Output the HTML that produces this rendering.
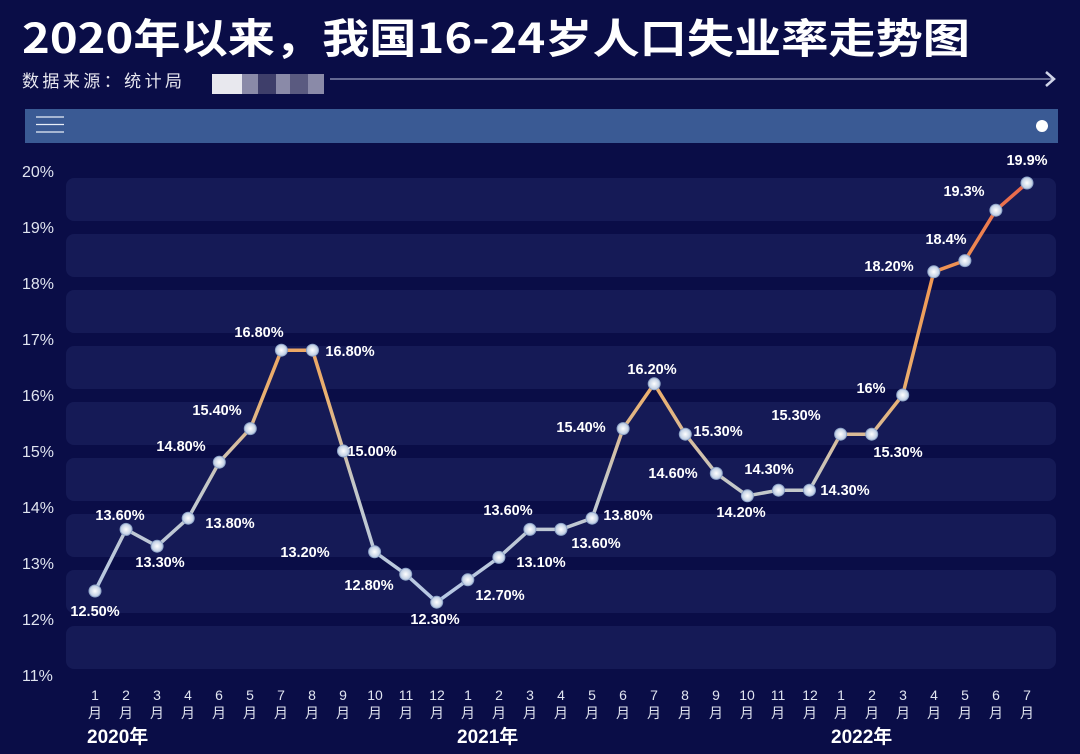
<!DOCTYPE html>
<html><head><meta charset="utf-8"><style>
body{margin:0;width:1080px;height:754px;background:#0a0d47;overflow:hidden;font-family:"Liberation Sans","Noto Sans CJK SC",sans-serif;}
</style></head><body>
<svg width="1080" height="754" xmlns="http://www.w3.org/2000/svg" style="position:absolute;left:0;top:0">
<defs>
<linearGradient id="g" gradientUnits="userSpaceOnUse" x1="0" y1="619" x2="0" y2="171">
<stop offset="0" stop-color="#b4c8ea"/>
<stop offset="0.3" stop-color="#c4c8c8"/>
<stop offset="0.5" stop-color="#eab070"/>
<stop offset="0.75" stop-color="#f09a55"/>
<stop offset="1" stop-color="#e8604a"/>
</linearGradient>
<radialGradient id="dot"><stop offset="0" stop-color="#ffffff"/><stop offset="1" stop-color="#b8c8e0"/></radialGradient>
</defs>
<text x="22" y="53" fill="#fff" font-size="41" font-weight="bold" textLength="948" lengthAdjust="spacingAndGlyphs" font-family="Noto Sans CJK SC,sans-serif">2020年以来，我国16-24岁人口失业率走势图</text>
<text x="22" y="87" fill="#e8e8f0" font-size="17" textLength="160" font-family="Noto Sans CJK SC,sans-serif">数据来源：统计局</text>
<rect x="212" y="74" width="112" height="20" fill="#8a8aa8"/>
<rect x="212" y="74" width="30" height="20" fill="#e8e8ee"/>
<rect x="258" y="74" width="18" height="20" fill="#3e3e6a"/>
<rect x="290" y="74" width="18" height="20" fill="#5a5a80"/>
<line x1="330" y1="79" x2="1052" y2="79" stroke="#9aa0c0" stroke-width="1.2"/>
<polyline points="1046,72 1054,79 1046,86" fill="none" stroke="#d0d4e8" stroke-width="2.5"/>
<rect x="25" y="109" width="1033" height="34" fill="#3a5a94"/>
<g stroke="#e8eef8" stroke-width="1.3"><line x1="36" y1="117" x2="64" y2="117"/><line x1="36" y1="124.5" x2="64" y2="124.5"/><line x1="36" y1="132" x2="64" y2="132"/></g>
<circle cx="1042" cy="126" r="6" fill="#fff"/>
<g fill="#151a56">
<rect x="66" y="178" width="990" height="43" rx="8"/>
<rect x="66" y="234" width="990" height="43" rx="8"/>
<rect x="66" y="290" width="990" height="43" rx="8"/>
<rect x="66" y="346" width="990" height="43" rx="8"/>
<rect x="66" y="402" width="990" height="43" rx="8"/>
<rect x="66" y="458" width="990" height="43" rx="8"/>
<rect x="66" y="514" width="990" height="43" rx="8"/>
<rect x="66" y="570" width="990" height="43" rx="8"/>
<rect x="66" y="626" width="990" height="43" rx="8"/>
</g>
<g fill="#e0e4f0" font-size="16" font-family="Liberation Sans,sans-serif">
<text x="22" y="177">20%</text><text x="22" y="233">19%</text><text x="22" y="289">18%</text><text x="22" y="345">17%</text><text x="22" y="401">16%</text><text x="22" y="457">15%</text><text x="22" y="513">14%</text><text x="22" y="569">13%</text><text x="22" y="625">12%</text><text x="22" y="681">11%</text>
</g>
<polyline fill="none" stroke="url(#g)" stroke-width="3.5" stroke-linejoin="round" points="95.0,591.0 126.1,529.4 157.1,546.2 188.2,518.2 219.3,462.2 250.3,428.6 281.4,350.2 312.5,350.2 343.5,451.0 374.6,551.8 405.7,574.2 436.7,602.2 467.8,579.8 498.9,557.4 529.9,529.4 561.0,529.4 592.1,518.2 623.1,428.6 654.2,383.8 685.3,434.2 716.3,473.4 747.4,495.8 778.5,490.2 809.5,490.2 840.6,434.2 871.7,434.2 902.7,395.0 933.8,271.8 964.9,260.6 995.9,210.2 1027.0,183"/>
<g fill="url(#dot)" stroke="#8ea4c8" stroke-width="1">
<circle cx="95.0" cy="591.0" r="6"/><circle cx="126.1" cy="529.4" r="6"/><circle cx="157.1" cy="546.2" r="6"/><circle cx="188.2" cy="518.2" r="6"/><circle cx="219.3" cy="462.2" r="6"/><circle cx="250.3" cy="428.6" r="6"/><circle cx="281.4" cy="350.2" r="6"/><circle cx="312.5" cy="350.2" r="6"/><circle cx="343.5" cy="451.0" r="6"/><circle cx="374.6" cy="551.8" r="6"/><circle cx="405.7" cy="574.2" r="6"/><circle cx="436.7" cy="602.2" r="6"/><circle cx="467.8" cy="579.8" r="6"/><circle cx="498.9" cy="557.4" r="6"/><circle cx="529.9" cy="529.4" r="6"/><circle cx="561.0" cy="529.4" r="6"/><circle cx="592.1" cy="518.2" r="6"/><circle cx="623.1" cy="428.6" r="6"/><circle cx="654.2" cy="383.8" r="6"/><circle cx="685.3" cy="434.2" r="6"/><circle cx="716.3" cy="473.4" r="6"/><circle cx="747.4" cy="495.8" r="6"/><circle cx="778.5" cy="490.2" r="6"/><circle cx="809.5" cy="490.2" r="6"/><circle cx="840.6" cy="434.2" r="6"/><circle cx="871.7" cy="434.2" r="6"/><circle cx="902.7" cy="395.0" r="6"/><circle cx="933.8" cy="271.8" r="6"/><circle cx="964.9" cy="260.6" r="6"/><circle cx="995.9" cy="210.2" r="6"/><circle cx="1027.0" cy="183" r="6"/>
</g>
<g fill="#fff" font-size="14.5" font-weight="bold" text-anchor="middle" dominant-baseline="central" font-family="Liberation Sans,sans-serif">
<text x="95" y="612">12.50%</text><text x="120" y="516">13.60%</text><text x="160" y="563">13.30%</text><text x="230" y="524">13.80%</text><text x="181" y="447">14.80%</text><text x="217" y="411">15.40%</text><text x="259" y="333">16.80%</text><text x="350" y="352">16.80%</text><text x="372" y="452">15.00%</text><text x="305" y="553">13.20%</text><text x="369" y="586">12.80%</text><text x="435" y="620">12.30%</text><text x="500" y="596">12.70%</text><text x="541" y="563">13.10%</text><text x="508" y="511">13.60%</text><text x="596" y="544">13.60%</text><text x="628" y="516">13.80%</text><text x="581" y="428">15.40%</text><text x="652" y="370">16.20%</text><text x="718" y="432">15.30%</text><text x="673" y="474">14.60%</text><text x="741" y="513">14.20%</text><text x="769" y="470">14.30%</text><text x="845" y="491">14.30%</text><text x="796" y="416">15.30%</text><text x="898" y="453">15.30%</text><text x="871" y="389">16%</text><text x="889" y="267">18.20%</text><text x="946" y="240">18.4%</text><text x="964" y="192">19.3%</text><text x="1027" y="161">19.9%</text>
</g>
<g fill="#e0e4f0" font-size="14" text-anchor="middle" font-family="Liberation Sans,Noto Sans CJK SC,sans-serif">
<text x="95" y="700">1</text><text x="95" y="718">月</text>
<text x="126" y="700">2</text><text x="126" y="718">月</text>
<text x="157" y="700">3</text><text x="157" y="718">月</text>
<text x="188" y="700">4</text><text x="188" y="718">月</text>
<text x="219" y="700">6</text><text x="219" y="718">月</text>
<text x="250" y="700">5</text><text x="250" y="718">月</text>
<text x="281" y="700">7</text><text x="281" y="718">月</text>
<text x="312" y="700">8</text><text x="312" y="718">月</text>
<text x="343" y="700">9</text><text x="343" y="718">月</text>
<text x="375" y="700">10</text><text x="375" y="718">月</text>
<text x="406" y="700">11</text><text x="406" y="718">月</text>
<text x="437" y="700">12</text><text x="437" y="718">月</text>
<text x="468" y="700">1</text><text x="468" y="718">月</text>
<text x="499" y="700">2</text><text x="499" y="718">月</text>
<text x="530" y="700">3</text><text x="530" y="718">月</text>
<text x="561" y="700">4</text><text x="561" y="718">月</text>
<text x="592" y="700">5</text><text x="592" y="718">月</text>
<text x="623" y="700">6</text><text x="623" y="718">月</text>
<text x="654" y="700">7</text><text x="654" y="718">月</text>
<text x="685" y="700">8</text><text x="685" y="718">月</text>
<text x="716" y="700">9</text><text x="716" y="718">月</text>
<text x="747" y="700">10</text><text x="747" y="718">月</text>
<text x="778" y="700">11</text><text x="778" y="718">月</text>
<text x="810" y="700">12</text><text x="810" y="718">月</text>
<text x="841" y="700">1</text><text x="841" y="718">月</text>
<text x="872" y="700">2</text><text x="872" y="718">月</text>
<text x="903" y="700">3</text><text x="903" y="718">月</text>
<text x="934" y="700">4</text><text x="934" y="718">月</text>
<text x="965" y="700">5</text><text x="965" y="718">月</text>
<text x="996" y="700">6</text><text x="996" y="718">月</text>
<text x="1027" y="700">7</text><text x="1027" y="718">月</text>
</g>
<g fill="#fff" font-size="19" font-weight="bold" font-family="Liberation Sans,Noto Sans CJK SC,sans-serif">
<text x="87" y="743">2020年</text><text x="457" y="743">2021年</text><text x="831" y="743">2022年</text>
</g>
</svg>
</body></html>
